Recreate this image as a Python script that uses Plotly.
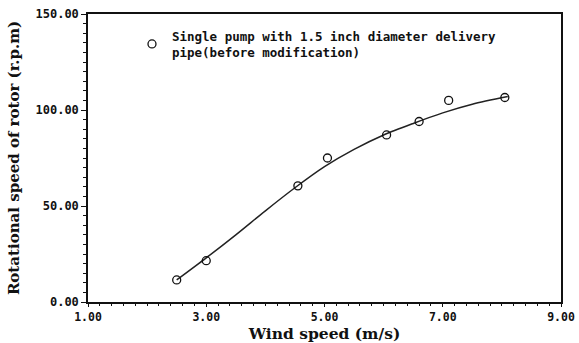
import plotly.graph_objects as go

# Measured points
wind_speed = [2.5, 3.0, 4.55, 5.05, 6.05, 6.6, 7.1, 8.05]
rotor_rpm = [11.5, 21.5, 60.5, 75.0, 87.0, 94.0, 105.0, 106.5]

# Fitted curve
curve_x = [2.5, 3.0, 3.5, 4.0, 4.5, 5.0, 5.5, 6.0, 6.5, 7.0, 7.5, 8.1]
curve_y = [11.5, 23.0, 35.0, 47.5, 59.5, 70.5, 79.5, 87.0, 93.0, 98.5, 103.0, 107.0]

x_ticks = [1, 3, 5, 7, 9]
y_ticks = [0, 50, 100, 150]

legend_name = "Single pump with 1.5 inch diameter delivery<br>pipe(before modification)"

mono = "DejaVu Sans Mono"
serif = "DejaVu Serif"

fig = go.Figure()
fig.add_trace(go.Scatter(
    x=curve_x, y=curve_y, mode="lines", line=dict(color="#222", width=1.5, shape="spline", smoothing=0.8),
    showlegend=False, hoverinfo="skip"))
fig.add_trace(go.Scatter(
    x=wind_speed, y=rotor_rpm, mode="markers", name=legend_name,
    marker=dict(symbol="circle-open", size=8, color="#111", line=dict(width=1.3, color="#111"))))

fig.update_layout(
    width=579, height=343,
    margin=dict(l=88, r=18, t=14, b=41),
    paper_bgcolor="white", plot_bgcolor="white",
    showlegend=True,
    legend=dict(x=0.093, y=0.975, xanchor="left", yanchor="top", bgcolor="rgba(0,0,0,0)",
                font=dict(family=mono, size=12.5, color="#111", weight="bold"),
                itemwidth=30, tracegroupgap=0),
)
fig.update_xaxes(
    range=[1, 9], tickvals=x_ticks, tickformat=".2f", automargin=False, ticklabeloverflow="allow",
    showline=True, linecolor="#111", linewidth=1.5, mirror=True,
    ticks="outside", ticklen=3, tickcolor="#111", tickwidth=1.2,
    minor=dict(dtick=0.2, ticks="outside", ticklen=2, tickcolor="#111", tickwidth=1),
    showgrid=False, zeroline=False,
    tickfont=dict(family=mono, size=11.5, color="#111", weight="bold"),
    title=dict(text="Wind speed (m/s)", font=dict(family=serif, size=15.5, color="#111", weight="bold"), standoff=4),
)
fig.update_yaxes(
    range=[0, 150], tickvals=y_ticks, tickformat=".2f", automargin=False, ticklabeloverflow="allow",
    showline=True, linecolor="#111", linewidth=1.5, mirror=True,
    ticks="outside", ticklen=5, tickcolor="#111", tickwidth=1.2,
    minor=dict(dtick=5, ticks="outside", ticklen=3, tickcolor="#111", tickwidth=1),
    showgrid=False, zeroline=False,
    tickfont=dict(family=mono, size=12, color="#111", weight="bold"),
    title=dict(text="Rotational speed of rotor (r.p.m)", font=dict(family=serif, size=15, color="#111", weight="bold"), standoff=12),
)

# remove the page's default 8px body margin so the figure fills the window
fig.write_html("out.html", config={"displayModeBar": False},
               post_script="document.body.style.margin='0';")
